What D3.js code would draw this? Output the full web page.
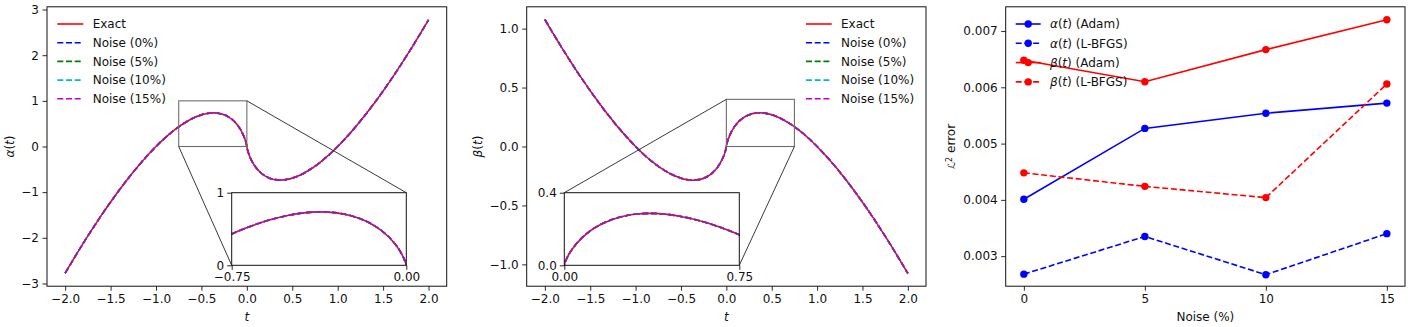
<!DOCTYPE html>
<html><head><meta charset="utf-8">
<script src="https://cdn.jsdelivr.net/npm/d3@7"></script>
<style>body{margin:0;background:#fff} svg{display:block;font-family:"DejaVu Sans",sans-serif}</style>
</head><body>
<svg id="c" width="1416" height="327"></svg>
<script>
// ---------- data ----------
const tValues = [-2,-1.8,-1.6,-1.4,-1.2,-1,-0.9,-0.8,-0.7,-0.6,-0.5,-0.45,-0.37,-0.3,-0.25,-0.2,-0.15,-0.1,-0.05,-0.02,-0.01,-0.005,-0.001,0,
  0.001,0.005,0.01,0.02,0.05,0.1,0.15,0.2,0.25,0.3,0.37,0.45,0.5,0.6,0.7,0.8,0.9,1,1.2,1.4,1.6,1.8,2];
const alphaExact = [-2.773,-2.116,-1.504,-0.942,-0.438,0,0.190,0.357,0.499,0.613,0.693,0.719,0.736,0.722,0.693,0.644,0.569,0.461,0.300,0.156,0.092,0.053,0.014,0,
  -0.014,-0.053,-0.092,-0.156,-0.300,-0.461,-0.569,-0.644,-0.693,-0.722,-0.736,-0.719,-0.693,-0.613,-0.499,-0.357,-0.190,0,0.438,0.942,1.504,2.116,2.773];
const betaExact = [1.077,0.822,0.584,0.366,0.170,0,-0.074,-0.139,-0.194,-0.238,-0.269,-0.279,-0.286,-0.281,-0.269,-0.250,-0.221,-0.179,-0.116,-0.061,-0.036,-0.021,-0.005,0,
  0.005,0.021,0.036,0.061,0.116,0.179,0.221,0.250,0.269,0.281,0.286,0.279,0.269,0.238,0.194,0.139,0.074,0,-0.170,-0.366,-0.584,-0.822,-1.077];
const seriesNames = ["Exact","Noise (0%)","Noise (5%)","Noise (10%)","Noise (15%)"];
const seriesColors = ["#ff0000","#0000ff","#008000","#00bfbf","#bf00bf"];

const noiseLevels = [0,5,10,15];
const alphaAdam  = [0.00401,0.00527,0.00554,0.00572];
const alphaLBFGS = [0.00268,0.00335,0.00267,0.00340];
const betaAdam   = [0.00648,0.00610,0.00667,0.00720];
const betaLBFGS  = [0.00448,0.00424,0.00404,0.00606];

const tTicks = [-2,-1.5,-1,-0.5,0,0.5,1,1.5,2];
const alphaTicks = [-3,-2,-1,0,1,2,3];
const betaTicks = [-1,-0.5,0,0.5,1];
const errTicks = [0.003,0.004,0.005,0.006,0.007];

// ---------- helpers ----------
const svg = d3.select("#c");
const FS = 12;
const TOP = 6.8, BOT = 286.2;
let clipId = 0;

function frame(g, x0, x1, y0, y1, stroke) {
  g.append("rect").attr("x", x0).attr("y", y0).attr("width", x1 - x0).attr("height", y1 - y0)
    .attr("fill", "none").attr("stroke", stroke || "#111").attr("stroke-width", 1);
}
function styleAxis(sel) {
  sel.select(".domain").remove();
  sel.selectAll(".tick line").attr("stroke", "#111").attr("stroke-width", 0.9);
  sel.selectAll(".tick text").attr("font-size", FS).attr("font-family", "DejaVu Sans").attr("fill", "#111");
  sel.attr("font-size", null).attr("font-family", null);
}
function addClip(x0, x1, y0, y1) {
  const id = "clip" + (clipId++);
  svg.append("clipPath").attr("id", id).append("rect")
    .attr("x", x0).attr("y", y0).attr("width", x1 - x0).attr("height", y1 - y0);
  return "url(#" + id + ")";
}
function mathLabel(sel, parts) {
  parts.forEach(p => sel.append("tspan").attr("font-style", p[1] ? "italic" : null).text(p[0]));
}
function drawCurves(g, x, y, vals, clip) {
  const line = d3.line().x(d => x(d[0])).y(d => y(d[1])).curve(d3.curveMonotoneX);
  const pts = d3.zip(tValues, vals);
  const cg = g.append("g").attr("clip-path", clip);
  seriesNames.forEach((n, i) => {
    cg.append("path").attr("d", line(pts)).attr("fill", "none")
      .attr("stroke", seriesColors[i]).attr("stroke-width", 1.6)
      .attr("stroke-dasharray", i === 0 ? null : "6,2.7");
  });
}
function curveLegend(g, lx0, lx1, tx, rows) {
  seriesNames.forEach((n, i) => {
    const yy = rows[i];
    g.append("line").attr("x1", lx0).attr("x2", lx1).attr("y1", yy).attr("y2", yy)
      .attr("stroke", seriesColors[i]).attr("stroke-width", 1.6)
      .attr("stroke-dasharray", i === 0 ? null : "6,2.7");
    g.append("text").attr("x", tx).attr("y", yy).attr("dy", "0.36em")
      .attr("font-size", FS).attr("fill", "#111").text(n);
  });
}

function curvePanel(opts) {
  const g = svg.append("g");
  const {x0, x1, yDom, vals, yTicks, yFmt, ylab, ylabX, inset, legend} = opts;
  const x = d3.scaleLinear().domain([-2.2, 2.2]).range([x0, x1]);
  const y = d3.scaleLinear().domain(yDom).range([BOT, TOP]);
  drawCurves(g, x, y, vals, addClip(x0, x1, TOP, BOT));
  // axes
  g.append("g").attr("transform", `translate(0,${BOT})`)
    .call(d3.axisBottom(x).tickValues(tTicks).tickFormat(d3.format(".1f")).tickSize(4.5).tickPadding(3.5))
    .call(styleAxis);
  g.append("g").attr("transform", `translate(${x0},0)`)
    .call(d3.axisLeft(y).tickValues(yTicks).tickFormat(yFmt).tickSize(4.5).tickPadding(3.5))
    .call(styleAxis);
  frame(g, x0, x1, TOP, BOT);
  // axis labels
  mathLabel(g.append("text").attr("x", (x0 + x1) / 2).attr("y", 321).attr("text-anchor", "middle")
    .attr("font-size", FS).attr("fill", "#111"), [["t", true]]);
  mathLabel(g.append("text").attr("transform", `translate(${ylabX},${(TOP + BOT) / 2}) rotate(-90)`)
    .attr("text-anchor", "middle").attr("dy", "0.36em").attr("font-size", FS).attr("fill", "#111"),
    [[ylab, true], ["(", false], ["t", true], [")", false]]);
  // zoom box
  const bx0 = x(inset.xd[0]), bx1 = x(inset.xd[1]), by0 = y(inset.yd[1]), by1 = y(inset.yd[0]);
  g.append("rect").attr("x", bx0).attr("y", by0).attr("width", bx1 - bx0).attr("height", by1 - by0)
    .attr("fill", "none").attr("stroke", "#6e6e6e").attr("stroke-width", 1.1);
  // inset axes
  const ix = d3.scaleLinear().domain(inset.xd).range([inset.l, inset.r]);
  const iy = d3.scaleLinear().domain(inset.yd).range([inset.b, inset.t]);
  g.append("rect").attr("x", inset.l).attr("y", inset.t).attr("width", inset.r - inset.l)
    .attr("height", inset.b - inset.t).attr("fill", "#fff");
  drawCurves(g, ix, iy, vals, addClip(inset.l, inset.r, inset.t, inset.b));
  g.append("g").attr("transform", `translate(0,${inset.b})`)
    .call(d3.axisBottom(ix).tickValues(inset.xd).tickFormat(d3.format(".2f")).tickSize(4.5).tickPadding(3))
    .call(styleAxis);
  g.append("g").attr("transform", `translate(${inset.l},0)`)
    .call(d3.axisLeft(iy).tickValues(inset.yd).tickFormat(inset.yFmt).tickSize(4.5).tickPadding(3))
    .call(styleAxis);
  frame(g, inset.l, inset.r, inset.t, inset.b);
  // connectors
  inset.conn.forEach(c => {
    g.append("line").attr("x1", x(c[0])).attr("y1", y(c[1])).attr("x2", ix(c[2])).attr("y2", iy(c[3]))
      .attr("stroke", "#222").attr("stroke-width", 0.9);
  });
  curveLegend(g, legend.lx0, legend.lx1, legend.tx, [24, 42.7, 61.4, 80.1, 98.8]);
}

// ---------- panel 1: alpha ----------
curvePanel({
  x0: 47, x1: 446.7, yDom: [-3.06, 3.06], vals: alphaExact, yTicks: alphaTicks,
  yFmt: d3.format("d"), ylab: "α", ylabX: 10,
  inset: { xd: [-0.75, 0], yd: [0, 1], l: 231.7, r: 406.3, t: 192.7, b: 265.3, yFmt: d3.format("d"),
           conn: [[-0.75, 0, -0.75, 0], [0, 1, 0, 1]] },
  legend: { lx0: 57.3, lx1: 83.3, tx: 92.7 }
});

// ---------- panel 2: beta ----------
curvePanel({
  x0: 526.7, x1: 926, yDom: [-1.185, 1.185], vals: betaExact, yTicks: betaTicks,
  yFmt: d3.format(".1f"), ylab: "β", ylabX: 477.5,
  inset: { xd: [0, 0.75], yd: [0, 0.4], l: 564.3, r: 739.3, t: 192.7, b: 265.3, yFmt: d3.format(".1f"),
           conn: [[0, 0.4, 0, 0.4], [0.75, 0, 0.75, 0]] },
  legend: { lx0: 806, lx1: 831.7, tx: 841 }
});

// ---------- panel 3: errors ----------
(function () {
  const g = svg.append("g");
  const x0 = 1005.7, x1 = 1405;
  const x = d3.scaleLinear().domain([-0.75, 15.75]).range([x0, x1]);
  const y = d3.scaleLinear().domain([0.002466, 0.007431]).range([BOT, TOP]);
  const series = [
    { name: [["α", true], ["(", false], ["t", true], [") (Adam)", false]], vals: alphaAdam, color: "#0000ff", dash: null },
    { name: [["α", true], ["(", false], ["t", true], [") (L-BFGS)", false]], vals: alphaLBFGS, color: "#0000ff", dash: "6,2.7" },
    { name: [["β", true], ["(", false], ["t", true], [") (Adam)", false]], vals: betaAdam, color: "#ff0000", dash: null },
    { name: [["β", true], ["(", false], ["t", true], [") (L-BFGS)", false]], vals: betaLBFGS, color: "#ff0000", dash: "6,2.7" }
  ];
  const line = d3.line().x(d => x(d[0])).y(d => y(d[1]));
  series.forEach(s => {
    const pts = d3.zip(noiseLevels, s.vals);
    g.append("path").attr("d", line(pts)).attr("fill", "none").attr("stroke", s.color)
      .attr("stroke-width", 1.6).attr("stroke-dasharray", s.dash);
    g.selectAll(null).data(pts).enter().append("circle")
      .attr("cx", d => x(d[0])).attr("cy", d => y(d[1])).attr("r", 3.7).attr("fill", s.color);
  });
  g.append("g").attr("transform", `translate(0,${BOT})`)
    .call(d3.axisBottom(x).tickValues(noiseLevels).tickFormat(d3.format("d")).tickSize(4.5).tickPadding(3.5))
    .call(styleAxis);
  g.append("g").attr("transform", `translate(${x0},0)`)
    .call(d3.axisLeft(y).tickValues(errTicks).tickFormat(d3.format(".3f")).tickSize(4.5).tickPadding(3.5))
    .call(styleAxis);
  frame(g, x0, x1, TOP, BOT);
  g.append("text").attr("x", (x0 + x1) / 2).attr("y", 321).attr("text-anchor", "middle")
    .attr("font-size", FS).attr("fill", "#111").text("Noise (%)");
  const yl = g.append("text").attr("transform", `translate(951,${(TOP + BOT) / 2}) rotate(-90)`)
    .attr("text-anchor", "middle").attr("dy", "0.36em").attr("font-size", FS).attr("fill", "#111");
  yl.append("tspan").attr("font-style", "italic").attr("font-size", 10).text("ℒ");
  yl.append("tspan").attr("font-size", 8).attr("dy", "-0.45em").text("2");
  yl.append("tspan").attr("dy", "0.3em").text(" error");
  // legend
  const rows = [24, 43.3, 62.6, 81.9];
  series.forEach((s, i) => {
    const yy = rows[i];
    g.append("line").attr("x1", 1015.7).attr("x2", 1040.7).attr("y1", yy).attr("y2", yy)
      .attr("stroke", s.color).attr("stroke-width", 1.6).attr("stroke-dasharray", s.dash);
    g.append("circle").attr("cx", 1028.2).attr("cy", yy).attr("r", 3.7).attr("fill", s.color);
    mathLabel(g.append("text").attr("x", 1050).attr("y", yy).attr("dy", "0.36em")
      .attr("font-size", FS).attr("fill", "#111"), s.name);
  });
})();
</script>
</body></html>
